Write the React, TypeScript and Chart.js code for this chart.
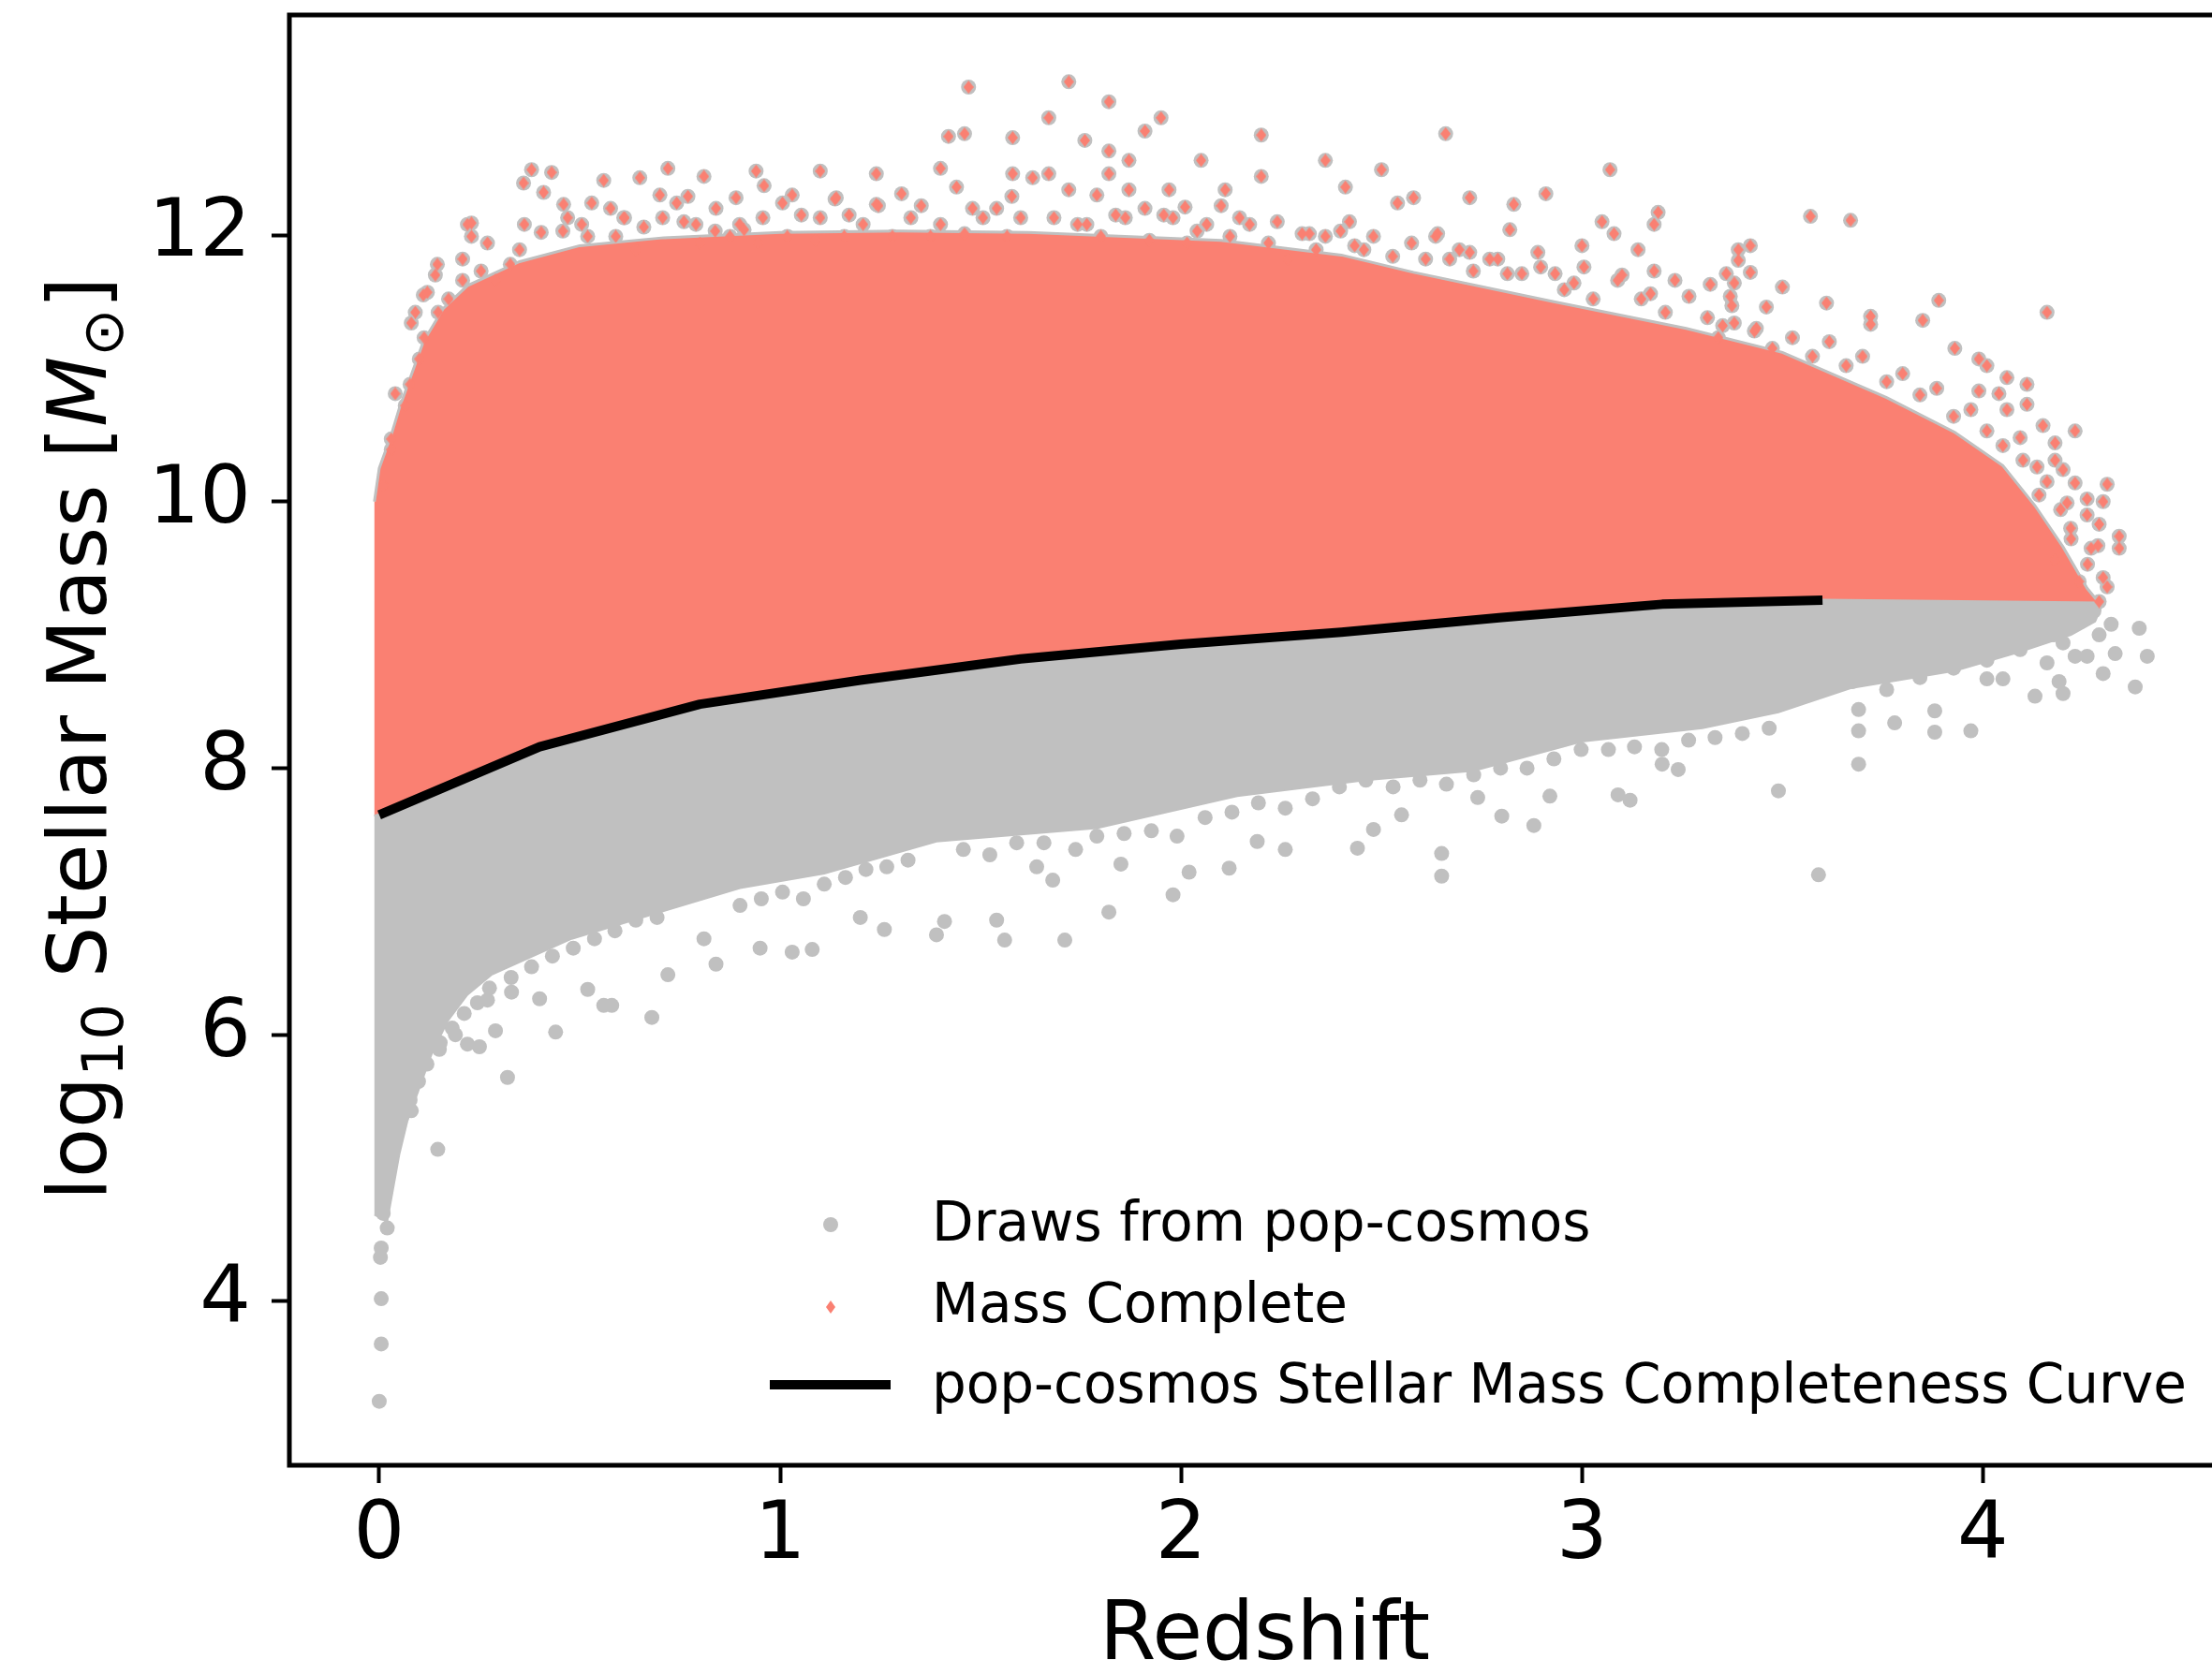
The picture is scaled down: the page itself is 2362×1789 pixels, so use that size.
import React, { useEffect, useRef } from 'react';
import { Chart, registerables } from 'chart.js';

Chart.register(...registerables);
Chart.defaults.font.family = "'DejaVu Sans', sans-serif";

// ---------- text ----------
const xLabel = 'Redshift';
const legendLabels = [
  'Draws from pop-cosmos',
  'Mass Complete',
  'pop-cosmos Stellar Mass Completeness Curve',
];
const xTicks = [0, 1, 2, 3, 4];
const yTicks = [4, 6, 8, 10, 12];

// ---------- completeness curve ----------
const curveZ = [0, 0.4, 0.8, 1.2, 1.6, 2.0, 2.4, 2.8, 3.2, 3.6];
const curveM = [7.65, 8.16, 8.48, 8.66, 8.82, 8.93, 9.02, 9.13, 9.23, 9.26];

// ---------- dense "mass complete" cloud (edges) ----------
const completeFloorZ = [-0.012, 0, 0.4, 0.8, 1.2, 1.6, 2.0, 2.4, 2.8, 3.2, 3.6, 4.29];
const completeFloorM = [7.64, 7.65, 8.16, 8.48, 8.66, 8.82, 8.93, 9.02, 9.13, 9.23, 9.26, 9.24];
const completeTopZ = [-0.012, 0.0, 0.03, 0.05, 0.08, 0.11, 0.16, 0.22, 0.35, 0.5, 0.71, 1.0, 1.3, 1.62, 2.1, 2.4, 2.58, 2.93, 3.26, 3.5, 3.76, 3.93, 4.05, 4.13, 4.2, 4.26, 4.29];
const completeTopM = [10.0, 10.25, 10.5, 10.7, 10.95, 11.2, 11.45, 11.62, 11.8, 11.92, 11.98, 12.02, 12.03, 12.02, 11.96, 11.85, 11.72, 11.5, 11.3, 11.12, 10.78, 10.52, 10.27, 9.97, 9.66, 9.35, 9.24];

// ---------- dense "draws" cloud lower edge ----------
const drawsBottomZ = [-0.012, 0.02, 0.035, 0.05, 0.07, 0.1, 0.13, 0.17, 0.22, 0.28, 0.48, 0.69, 0.9, 1.11, 1.39, 1.79, 2.14, 2.46, 2.73, 3.0, 3.3, 3.49, 3.67, 3.93, 4.09, 4.22, 4.28, 4.3];
const drawsBottomM = [4.65, 4.6, 4.85, 5.1, 5.35, 5.6, 5.85, 6.1, 6.3, 6.45, 6.72, 6.91, 7.1, 7.21, 7.45, 7.55, 7.79, 7.91, 7.98, 8.2, 8.3, 8.42, 8.6, 8.73, 8.87, 9.0, 9.1, 9.24];

// ---------- isolated mass-complete galaxies [z, logM] ----------
const completeOutliers: number[][] = [
  [0.01, 10.12], [0.03, 10.39], [0.03, 10.47], [0.04, 10.81], [0.08, 11.34], [0.09, 11.42], [0.11, 11.55], [0.12, 11.57],
  [0.14, 11.7], [0.145, 11.78], [0.22, 12.08], [0.23, 12.09], [0.23, 11.99], [0.27, 11.94],
  [0.36, 12.39], [0.38, 12.49], [0.41, 12.32], [0.43, 12.47], [0.46, 12.23], [0.53, 12.24], [0.56, 12.41], [0.61, 12.13],
  [0.65, 12.43], [0.7, 12.3], [0.72, 12.5], [0.76, 12.1], [0.77, 12.29], [0.81, 12.44], [0.84, 12.2], [0.89, 12.28],
  [0.91, 12.04], [0.94, 12.48], [0.96, 12.37], [1.03, 12.3], [1.1, 12.48], [1.14, 12.28], [1.24, 12.46], [1.24, 12.23],
  [1.4, 12.5], [1.42, 12.74], [1.44, 12.36], [1.46, 12.76], [1.47, 13.11], [1.48, 12.2], [1.58, 12.73], [1.58, 12.46],
  [1.63, 12.43], [1.67, 12.88], [1.67, 12.46], [1.72, 13.15], [1.72, 12.34], [1.76, 12.71], [1.79, 12.3], [1.82, 13.0],
  [1.82, 12.63], [1.82, 12.46], [1.87, 12.56], [1.87, 12.34], [1.91, 12.78], [1.91, 12.2], [1.95, 12.88], [1.97, 12.34],
  [2.01, 12.21], [2.05, 12.56], [2.1, 12.22], [2.11, 12.34], [2.2, 12.75], [2.2, 12.44], [2.24, 12.1], [2.32, 12.01],
  [2.36, 12.56], [2.41, 12.36], [2.42, 12.1], [2.5, 12.49], [2.54, 12.24], [2.58, 12.28], [2.64, 12.01], [2.66, 12.76],
  [2.72, 12.28], [2.72, 11.87], [2.77, 11.82], [2.82, 12.04], [2.83, 12.23], [2.89, 11.87], [2.91, 12.31], [2.98, 11.64],
  [3.0, 11.92], [3.05, 12.1], [3.07, 12.49], [3.08, 12.01], [3.1, 11.7], [3.14, 11.89], [3.18, 12.08], [3.18, 11.73],
  [3.19, 12.17], [3.32, 11.63], [3.36, 11.71], [3.37, 11.54], [3.38, 11.64], [3.39, 11.89], [3.39, 11.81], [3.42, 11.92],
  [3.42, 11.72], [3.46, 11.46], [3.5, 11.61], [3.57, 12.14], [3.61, 11.49], [3.67, 12.11], [3.72, 11.39], [3.72, 11.33],
  [3.85, 11.36], [3.89, 11.51], [3.93, 11.15], [3.99, 11.07], [3.99, 10.83], [4.01, 11.02], [4.04, 10.81], [4.06, 10.93],
  [4.06, 10.69], [4.1, 10.31], [4.11, 10.88], [4.11, 10.73], [4.14, 10.05], [4.15, 10.57], [4.16, 11.42], [4.18, 10.44],
  [4.18, 10.31], [4.18, 9.56], [4.2, 10.24], [4.21, 9.99], [4.22, 9.72], [4.23, 10.53], [4.23, 10.14], [4.24, 9.4],
  [4.26, 10.02], [4.26, 9.9], [4.27, 9.65], [4.29, 9.83], [4.29, 9.25], [4.3, 10.0], [4.3, 9.43], [4.31, 10.13],
  [4.31, 9.36], [4.34, 9.74], [4.34, 9.65],
];

// ---------- crowded mass-complete galaxies along the dense edge [z, logM] ----------
const completeEdge: number[][] = [
  [0.065, 10.72], [0.077, 10.88], [0.1, 11.07], [0.112, 11.23], [0.147, 11.42], [0.173, 11.52], [0.208, 11.66], [0.208, 11.82],
  [0.254, 11.73], [0.29, 11.66], [0.327, 11.78], [0.35, 11.89], [0.362, 12.08], [0.404, 12.02], [0.458, 12.03], [0.505, 12.08],
  [0.577, 12.2], [0.612, 12.13], [0.66, 12.06], [0.707, 12.13], [0.742, 12.24], [0.79, 12.08], [0.838, 12.03], [0.899, 12.08],
  [0.957, 12.13], [1.006, 12.24], [1.053, 12.15], [1.1, 12.13], [1.137, 12.27], [1.172, 12.15], [1.245, 12.22], [1.303, 12.31],
  [1.352, 12.22], [1.4, 12.08], [1.46, 12.01], [1.54, 12.2], [1.578, 12.29], [1.6, 12.13], [1.742, 12.08], [1.8, 11.99],
  [1.861, 12.13], [1.921, 11.96], [1.98, 12.13], [2.015, 11.94], [2.064, 12.08], [2.122, 11.99], [2.171, 12.08], [2.218, 11.94],
  [2.267, 11.82], [2.302, 12.01], [2.36, 11.99], [2.433, 11.92], [2.48, 11.99], [2.528, 11.84], [2.575, 11.94], [2.635, 11.99],
  [2.67, 11.82], [2.729, 11.73], [2.79, 11.82], [2.85, 11.71], [2.897, 11.76], [2.956, 11.59], [3.028, 11.52], [3.089, 11.66],
  [3.148, 11.52], [3.208, 11.42], [3.267, 11.54], [3.313, 11.38], [3.374, 11.47], [3.435, 11.3], [3.34, 11.23], [3.38, 11.34],
  [3.43, 11.28], [3.475, 11.15], [3.525, 11.23], [3.575, 11.09], [3.617, 11.2], [3.659, 11.02], [3.7, 11.09], [3.76, 10.9],
  [3.8, 10.96], [3.843, 10.8], [3.885, 10.85], [3.927, 10.64], [3.97, 10.69], [4.01, 10.53], [4.05, 10.42], [4.093, 10.48],
  [4.135, 10.26], [4.16, 10.15], [4.194, 9.94], [4.219, 9.8], [4.261, 9.53], [4.287, 9.67],
  [0.47, 12.13], [0.52, 11.99], [0.59, 11.99], [0.64, 11.89], [0.8, 11.94], [0.875, 11.99], [0.945, 11.94], [1.018, 11.99],
  [1.088, 11.96], [1.16, 11.99], [1.207, 12.08], [1.28, 11.99], [1.326, 12.13], [1.375, 11.99], [1.506, 12.13], [1.566, 11.99],
  [1.683, 12.13], [1.765, 12.08], [1.837, 12.15], [1.957, 12.15], [2.04, 12.03], [2.146, 12.13], [2.337, 11.89], [2.398, 12.03],
  [2.456, 11.89], [2.61, 11.82], [2.694, 11.89], [2.814, 11.71], [2.933, 11.71], [3.005, 11.76], [3.171, 11.56], [3.232, 11.66],
  [3.351, 11.32],
];

// ---------- isolated draws below the completeness limit [z, logM] ----------
const drawOutliers: number[][] = [
  [0.0, 3.25], [0.005, 3.68], [0.005, 4.02], [0.003, 4.33], [0.005, 4.4], [0.01, 4.66], [0.02, 4.55], [0.146, 5.14],
  [0.08, 5.43], [0.15, 5.89], [0.19, 6.0], [0.22, 5.93], [0.25, 5.91], [0.27, 6.26], [0.29, 6.03], [0.32, 5.68],
  [0.33, 6.32], [0.4, 6.27], [0.44, 6.02], [0.52, 6.34], [0.56, 6.22], [0.58, 6.22], [0.68, 6.13], [0.72, 6.45],
  [0.81, 6.72], [0.84, 6.53], [0.95, 6.65], [1.03, 6.62], [1.08, 6.64], [1.2, 6.88], [1.26, 6.79],
  [1.39, 6.75], [1.41, 6.85], [1.54, 6.86], [1.56, 6.71], [1.64, 7.26], [1.68, 7.16], [1.71, 6.71], [1.82, 6.92],
  [1.85, 7.28], [1.98, 7.05], [2.02, 7.22], [2.12, 7.25], [2.19, 7.45], [2.26, 7.39], [2.44, 7.4], [2.48, 7.54],
  [2.55, 7.65], [2.65, 7.36], [2.65, 7.19], [2.74, 7.78], [2.8, 7.64], [2.88, 7.57], [2.92, 7.79], [3.09, 7.8],
  [3.12, 7.76], [3.2, 8.03], [3.24, 7.99], [3.49, 7.83], [3.59, 7.2], [3.69, 8.03],
  [3.69, 8.28], [3.69, 8.44], [3.78, 8.34], [3.88, 8.27], [3.88, 8.43], [3.97, 8.28], [4.01, 8.67], [4.05, 8.67],
  [4.13, 8.54], [4.16, 8.79], [4.19, 8.65], [4.2, 8.56], [4.2, 8.94], [4.23, 8.84], [4.26, 8.84], [4.29, 9.0],
  [4.3, 8.71], [4.32, 9.08], [4.33, 8.86], [4.38, 8.61], [4.39, 9.05], [4.41, 8.84],
];

// ---------- crowded draws along the lower dense edge [z, logM] ----------
const drawEdge: number[][] = [
  [0.077, 5.51], [0.098, 5.65], [0.119, 5.78], [0.152, 5.94], [0.182, 6.05], [0.212, 6.16], [0.245, 6.24], [0.275, 6.35],
  [0.329, 6.43], [0.38, 6.51], [0.432, 6.59], [0.484, 6.65], [0.537, 6.72], [0.588, 6.78], [0.64, 6.86], [0.693, 6.88],
  [0.85, 7.13], [0.9, 6.97], [0.953, 7.02], [1.006, 7.07], [1.058, 7.02], [1.11, 7.13], [1.163, 7.18], [1.214, 7.24],
  [1.266, 7.26], [1.319, 7.31], [1.457, 7.39], [1.523, 7.35], [1.59, 7.44], [1.658, 7.44], [1.737, 7.39], [1.79, 7.49],
  [1.858, 7.51], [1.926, 7.53], [1.99, 7.49], [2.06, 7.63], [2.127, 7.67], [2.193, 7.74], [2.26, 7.7], [2.328, 7.77],
  [2.395, 7.86], [2.461, 7.91], [2.529, 7.86], [2.596, 7.91], [2.662, 7.88], [2.73, 7.95], [2.797, 8.0], [2.863, 8.0],
  [2.93, 8.07], [2.998, 8.14], [3.066, 8.14], [3.131, 8.16], [3.199, 8.14], [3.266, 8.21], [3.332, 8.23], [3.4, 8.26],
  [3.467, 8.3], [3.34, 8.38], [3.425, 8.49], [3.51, 8.54], [3.59, 8.59], [3.675, 8.65], [3.76, 8.59], [3.843, 8.68],
  [3.927, 8.75], [4.01, 8.81], [4.093, 8.89], [4.177, 9.0], [4.245, 9.1], [4.277, 9.18],
];

const SALMON = '#fa8072';
const SILVER = '#c0c0c0';

const pts = (zs: number[], ms: number[]) => zs.map((z, i) => ({ x: z, y: ms[i] }));
const pairs = (arr: number[][]) => arr.map(([z, m]) => ({ x: z, y: m }));
const polygon = (lz: number[], lm: number[], uz: number[], um: number[]) => [
  ...pts(lz, lm),
  ...pts(uz, um).reverse(),
];

function makeDiamond(w: number, h: number, color: string) {
  const c = document.createElement('canvas');
  c.width = w;
  c.height = h;
  const g = c.getContext('2d')!;
  g.fillStyle = color;
  g.beginPath();
  g.moveTo(w / 2, 0);
  g.lineTo(w, h / 2);
  g.lineTo(w / 2, h);
  g.lineTo(0, h / 2);
  g.closePath();
  g.fill();
  return c;
}

const framePlugin = {
  id: 'frame',
  afterDatasetsDraw(chart: any) {
    const { ctx, chartArea } = chart;
    ctx.save();
    ctx.strokeStyle = '#000';
    ctx.lineWidth = 5;
    ctx.strokeRect(chartArea.left, chartArea.top, chartArea.right - chartArea.left, chartArea.bottom - chartArea.top);
    ctx.restore();
  },
};

const yTitlePlugin = {
  id: 'yTitle',
  afterDraw(chart: any) {
    const ctx = chart.ctx;
    const size = 87;
    const sub = Math.round(size * 0.7);
    const fam = "'DejaVu Sans'";
    const segs = [
      { t: 'log', f: `${size}px ${fam}`, dy: 0 },
      { t: '10', f: `${sub}px ${fam}`, dy: 0.21 * size },
      { t: ' Stellar Mass [', f: `${size}px ${fam}`, dy: 0 },
      { t: 'M', f: `italic ${size}px ${fam}`, dy: 0 },
      { t: '\u2299', f: `${sub}px ${fam}`, dy: 0.21 * size },
      { t: ']', f: `${size}px ${fam}`, dy: 0 },
    ];
    ctx.save();
    let total = 0;
    const widths = segs.map((s) => {
      ctx.font = s.f;
      const w = ctx.measureText(s.t).width;
      total += w;
      return w;
    });
    ctx.translate(113, 789);
    ctx.rotate(-Math.PI / 2);
    ctx.fillStyle = '#000';
    ctx.textBaseline = 'alphabetic';
    ctx.textAlign = 'left';
    let x = -total / 2;
    segs.forEach((s, i) => {
      ctx.font = s.f;
      ctx.fillText(s.t, x, s.dy);
      x += widths[i];
    });
    ctx.restore();
  },
};

const legendPlugin = (diamond: HTMLCanvasElement) => ({
  id: 'legendBox',
  afterDraw(chart: any) {
    const ctx = chart.ctx;
    const textX = 995;
    const markX = 887;
    const baselines = [1325, 1412, 1498];
    ctx.save();
    ctx.fillStyle = SILVER;
    ctx.beginPath();
    ctx.arc(markX, baselines[0] - 17, 8, 0, Math.PI * 2);
    ctx.fill();
    ctx.drawImage(diamond, markX - diamond.width / 2, baselines[1] - 16 - diamond.height / 2);
    ctx.strokeStyle = '#000';
    ctx.lineWidth = 10;
    ctx.lineCap = 'butt';
    ctx.beginPath();
    ctx.moveTo(822, baselines[2] - 19);
    ctx.lineTo(951, baselines[2] - 19);
    ctx.stroke();
    ctx.fillStyle = '#000';
    ctx.font = "58px 'DejaVu Sans'";
    ctx.textBaseline = 'alphabetic';
    ctx.textAlign = 'left';
    legendLabels.forEach((t, i) => ctx.fillText(t, textX, baselines[i]));
    ctx.restore();
  },
});

export default function App() {
  const ref = useRef<HTMLCanvasElement>(null);
  useEffect(() => {
    const canvas = ref.current;
    if (!canvas) return;
    const diamond = makeDiamond(11, 14, SALMON);
    const legendDiamond = makeDiamond(10, 14, SALMON);
    const completePts = [...pairs(completeEdge), ...pairs(completeOutliers)];
    const chart = new Chart(canvas, {
      type: 'scatter',
      data: {
        datasets: [
          {
            label: legendLabels[2],
            data: pts(curveZ, curveM),
            showLine: true,
            borderColor: '#000',
            borderWidth: 10,
            borderJoinStyle: 'round',
            pointRadius: 0,
            fill: false,
            order: 0,
          } as any,
          {
            label: legendLabels[1],
            data: completePts,
            pointStyle: diamond,
            pointRadius: 7,
            backgroundColor: SALMON,
            borderWidth: 0,
            order: 1,
          } as any,
          {
            label: 'mass complete (dense)',
            data: polygon(completeFloorZ, completeFloorM, completeTopZ, completeTopM),
            showLine: true,
            fill: 'shape',
            backgroundColor: SALMON,
            borderColor: SILVER,
            borderWidth: 3,
            pointRadius: 0,
            order: 2,
          } as any,
          {
            label: legendLabels[0],
            data: [...pairs(drawOutliers), ...pairs(drawEdge), ...completePts],
            pointStyle: 'circle',
            pointRadius: 8,
            backgroundColor: SILVER,
            borderWidth: 0,
            order: 3,
          } as any,
          {
            label: 'draws (dense)',
            data: polygon(drawsBottomZ, drawsBottomM, completeFloorZ, completeFloorM),
            showLine: true,
            fill: 'shape',
            backgroundColor: SILVER,
            borderColor: SILVER,
            borderWidth: 2,
            pointRadius: 0,
            order: 4,
          } as any,
        ],
      },
      options: {
        responsive: false,
        animation: false,
        devicePixelRatio: 1,
        events: [],
        layout: { padding: { top: 16, right: 7, bottom: 0, left: 0 } },
        plugins: { legend: { display: false }, tooltip: { enabled: false } },
        scales: {
          x: {
            type: 'linear',
            min: -0.2241,
            max: 4.6416,
            afterBuildTicks: (s: any) => {
              s.ticks = xTicks.map((v) => ({ value: v }));
            },
            afterFit: (s: any) => {
              s.height = 224;
              s.paddingLeft = 0;
              s.paddingRight = 0;
            },
            grid: { display: true, drawOnChartArea: false, drawTicks: true, tickLength: 19, tickWidth: 4, tickColor: '#000' },
            border: { display: false },
            ticks: { color: '#000', font: { size: 86 }, padding: 6, maxRotation: 0, autoSkip: false, callback: (v: any) => String(v) },
            title: { display: true, text: xLabel, color: '#000', font: { size: 87, lineHeight: 1 }, padding: { top: 0, bottom: -4 } },
          },
          y: {
            type: 'linear',
            min: 2.77,
            max: 13.651,
            afterBuildTicks: (s: any) => {
              s.ticks = yTicks.map((v) => ({ value: v }));
            },
            afterFit: (s: any) => {
              s.width = 309;
              s.paddingTop = 0;
              s.paddingBottom = 0;
            },
            grid: { display: true, drawOnChartArea: false, drawTicks: true, tickLength: 19, tickWidth: 4, tickColor: '#000' },
            border: { display: false },
            ticks: { color: '#000', font: { size: 86 }, padding: 22, autoSkip: false, callback: (v: any) => String(v) },
            title: { display: false },
          },
        },
      } as any,
      plugins: [framePlugin, yTitlePlugin, legendPlugin(legendDiamond)],
    });
    return () => chart.destroy();
  }, []);
  return (
    <div style={{ position: 'fixed', left: 0, top: 0, width: 2362, height: 1789, overflow: 'hidden', background: '#fff' }}>
      <canvas ref={ref} width={2400} height={1789} style={{ display: 'block', width: 2400, height: 1789 }} />
    </div>
  );
}
